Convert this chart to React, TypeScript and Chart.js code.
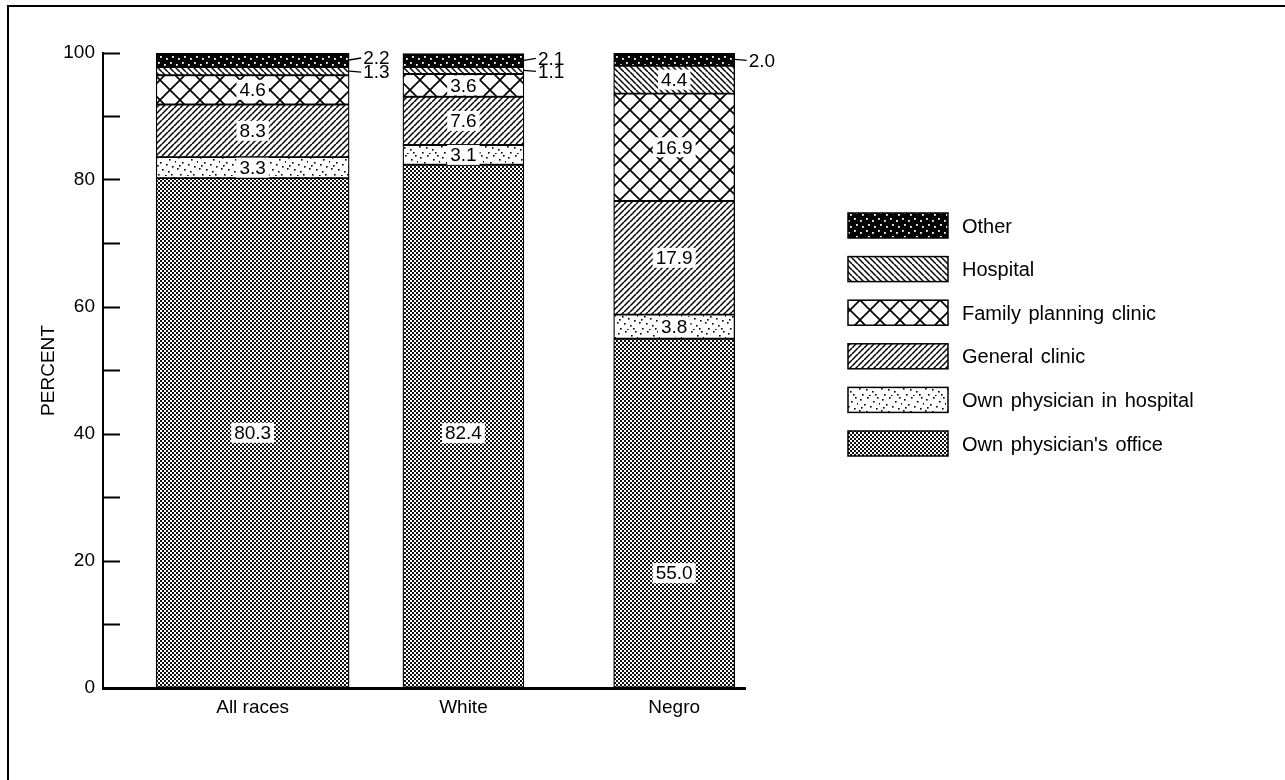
import React, { useEffect, useRef } from 'react';
import { Chart, registerables } from 'chart.js';

Chart.register(...registerables);

// ---- data ----
const categories = ['All races', 'White', 'Negro'];
const sources = [
  "Own physician's office",
  'Own physician in hospital',
  'General clinic',
  'Family planning clinic',
  'Hospital',
  'Other',
];
const allRaces = [80.3, 3.3, 8.3, 4.6, 1.3, 2.2];
const white = [82.4, 3.1, 7.6, 3.6, 1.1, 2.1];
const negro = [55.0, 3.8, 17.9, 16.9, 4.4, 2.0];
const yTickStep = 10;
const yLabelStep = 20;
const yAxisTitle = 'PERCENT';

// ---- styles ----
const FONT = "'Liberation Sans', Arial, Helvetica, sans-serif";
// vertical nudges (px) for a few in-bar labels, keyed "category index|source index"
const labelNudge: Record<string, number> = { '1|0': 7, '2|0': 60 };

function makePattern(w: number, h: number, draw: (c: CanvasRenderingContext2D) => void) {
  const c = document.createElement('canvas');
  c.width = w;
  c.height = h;
  const ctx = c.getContext('2d') as CanvasRenderingContext2D;
  draw(ctx);
  return ctx.createPattern(c, 'repeat') as CanvasPattern;
}

function buildPatterns() {
  const office = makePattern(4, 4, (c) => {
    c.fillStyle = '#fff';
    c.fillRect(0, 0, 4, 4);
    c.fillStyle = '#111';
    c.fillRect(0, 0, 2, 2);
    c.fillRect(2, 2, 2, 2);
  });
  const stippleDots = [
    [2, 3], [9, 1], [15, 5], [6, 8], [12, 10], [18, 12], [1, 14], [8, 15], [14, 17], [4, 20],
    [11, 21], [19, 1], [17, 20], [21, 7], [3, 11],
  ];
  const ownHospital = makePattern(22, 22, (c) => {
    c.fillStyle = '#fff';
    c.fillRect(0, 0, 22, 22);
    c.fillStyle = '#000';
    stippleDots.forEach(([x, y]) => c.fillRect(x, y, 1.6, 1.6));
  });
  const general = makePattern(6, 6, (c) => {
    c.fillStyle = '#fff';
    c.fillRect(0, 0, 6, 6);
    c.strokeStyle = '#000';
    c.lineWidth = 1.5;
    [-6, 0, 6].forEach((o) => {
      c.beginPath();
      c.moveTo(o, 6);
      c.lineTo(o + 6, 0);
      c.stroke();
    });
  });
  const family = makePattern(20, 20, (c) => {
    c.fillStyle = '#fff';
    c.fillRect(0, 0, 20, 20);
    c.strokeStyle = '#000';
    c.lineWidth = 1.7;
    [-20, 0, 20].forEach((o) => {
      c.beginPath();
      c.moveTo(o, 20);
      c.lineTo(o + 20, 0);
      c.stroke();
      c.beginPath();
      c.moveTo(o, 0);
      c.lineTo(o + 20, 20);
      c.stroke();
    });
  });
  const hospital = makePattern(6, 6, (c) => {
    c.fillStyle = '#fff';
    c.fillRect(0, 0, 6, 6);
    c.strokeStyle = '#000';
    c.lineWidth = 1.5;
    [-6, 0, 6].forEach((o) => {
      c.beginPath();
      c.moveTo(o, 0);
      c.lineTo(o + 6, 6);
      c.stroke();
    });
  });
  const otherDots = [[2, 2], [8, 4], [4, 8], [10, 10]];
  const other = makePattern(12, 12, (c) => {
    c.fillStyle = '#000';
    c.fillRect(0, 0, 12, 12);
    c.fillStyle = '#fff';
    otherDots.forEach(([x, y]) => c.fillRect(x, y, 1.8, 1.8));
  });
  return [office, ownHospital, general, family, hospital, other];
}

const segmentLabels = {
  id: 'segmentLabels',
  afterDatasetsDraw(chart: any) {
    const ctx: CanvasRenderingContext2D = chart.ctx;
    const bars: Record<number, { el: any; value: number; src: number }[]> = {};
    chart.data.datasets.forEach((ds: any, di: number) => {
      const meta = chart.getDatasetMeta(di);
      meta.data.forEach((el: any, i: number) => {
        const raw = ds.data[i];
        (bars[raw.x] = bars[raw.x] || []).push({ el, value: raw.y, src: ds.sourceIndex });
      });
    });
    ctx.save();
    ctx.font = `19px ${FONT}`;
    ctx.textBaseline = 'middle';
    Object.keys(bars).forEach((k) => {
      const items = bars[Number(k)];
      const callouts = items.filter((it) => it.value < 3);
      items.forEach((it) => {
        const { el, value } = it;
        const text = value.toFixed(1);
        const yc = (el.y + el.base) / 2;
        if (value >= 3) {
          const w = ctx.measureText(text).width;
          const y = yc + (labelNudge[`${k}|${it.src}`] || 0);
          ctx.fillStyle = '#fff';
          ctx.fillRect(el.x - w / 2 - 3, y - 10, w + 6, 20);
          ctx.fillStyle = '#000';
          ctx.textAlign = 'center';
          ctx.fillText(text, el.x, y + 1);
        } else {
          const idx = callouts.indexOf(it);
          const dy = callouts.length > 1 && idx === callouts.length - 1 ? -2 : 1;
          const xr = el.x + el.width / 2;
          const lx = xr + 14;
          const ly = yc + dy;
          ctx.strokeStyle = '#000';
          ctx.lineWidth = 1.3;
          ctx.beginPath();
          ctx.moveTo(xr, yc);
          ctx.lineTo(lx - 2, ly);
          ctx.stroke();
          ctx.fillStyle = '#000';
          ctx.textAlign = 'left';
          ctx.fillText(text, lx, ly + 1);
        }
      });
    });
    ctx.restore();
  },
};

const patternLegend = {
  id: 'patternLegend',
  afterDraw(chart: any) {
    const { ctx, chartArea } = chart;
    const x0 = chartArea.right + 103;
    const top = chartArea.top + 160;
    ctx.save();
    ctx.font = `20px ${FONT}`;
    (ctx as any).wordSpacing = '2px';
    ctx.textBaseline = 'middle';
    ctx.textAlign = 'left';
    const entries = sources.map((s, k) => ({ label: s, fill: chart.data.datasets[k].backgroundColor })).reverse();
    entries.forEach((e, j) => {
      const y = top + j * 43.6;
      ctx.fillStyle = e.fill;
      ctx.fillRect(x0, y, 100, 25);
      ctx.strokeStyle = '#000';
      ctx.lineWidth = 1.5;
      ctx.strokeRect(x0, y, 100, 25);
      ctx.fillStyle = '#000';
      ctx.fillText(e.label, x0 + 114, y + 14);
    });
    ctx.restore();
  },
};

export default function App() {
  const ref = useRef<HTMLCanvasElement>(null);
  useEffect(() => {
    if (!ref.current) return;
    const patterns = buildPatterns();
    const common = {
      borderColor: '#000',
      borderWidth: 1.3,
      borderSkipped: false,
      stack: 's',
    };
    const groupA = sources.map((s, k) => ({
      ...common,
      label: s,
      sourceIndex: k,
      data: [{ x: 0, y: allRaces[k] }],
      backgroundColor: patterns[k],
      barThickness: 193,
    }));
    const groupB = sources.map((s, k) => ({
      ...common,
      label: s,
      sourceIndex: k,
      data: [
        { x: 1, y: white[k] },
        { x: 2, y: negro[k] },
      ],
      backgroundColor: patterns[k],
      barThickness: 121,
    }));
    const chart = new Chart(ref.current, {
      type: 'bar',
      data: { datasets: [...groupA, ...groupB] as any },
      plugins: [segmentLabels, patternLegend],
      options: {
        animation: false,
        responsive: true,
        maintainAspectRatio: false,
        layout: { padding: { top: 53, right: 540, bottom: 0, left: 0 } },
        plugins: { legend: { display: false }, tooltip: { enabled: false } },
        scales: {
          x: {
            type: 'linear',
            offset: false,
            min: -0.71,
            max: 2.336,
            afterFit: (s: any) => {
              s.height = 92;
            },
            afterBuildTicks: (s: any) => {
              s.ticks = categories.map((_, i) => ({ value: i }));
            },
            ticks: {
              color: '#000',
              font: { family: FONT, size: 19 },
              padding: 8,
              maxRotation: 0,
              callback: (v: any) => categories[v] ?? '',
            },
            grid: { display: true, offset: false, drawOnChartArea: false, drawTicks: false },
            border: { display: true, color: '#000', width: 3 },
          },
          y: {
            stacked: true,
            min: 0,
            max: 100,
            afterFit: (s: any) => {
              s.width = 103;
            },
            ticks: {
              stepSize: yTickStep,
              color: '#000',
              font: { family: FONT, size: 19 },
              padding: 25,
              callback: (v: any) => (Number(v) % yLabelStep === 0 ? String(v) : ''),
            },
            grid: {
              drawOnChartArea: false,
              drawTicks: true,
              tickLength: -17,
              tickWidth: 2,
              tickColor: '#000',
            },
            border: { display: true, color: '#000', width: 2 },
            title: {
              display: true,
              text: yAxisTitle,
              color: '#000',
              font: { family: FONT, size: 19 },
              padding: { top: 37, bottom: 0 },
            },
          },
        },
      },
    });
    return () => chart.destroy();
  }, []);
  return (
    <div style={{ position: 'fixed', left: 0, top: 0, width: 1285, height: 780, background: '#fff' }}>
      <div
        style={{
          position: 'absolute',
          left: 7,
          top: 5,
          right: 0,
          bottom: 0,
          borderTop: '2px solid #000',
          borderLeft: '2px solid #000',
        }}
      />
      <div style={{ position: 'absolute', left: 0, top: 0, width: 1285, height: 780 }}>
        <canvas ref={ref} />
      </div>
    </div>
  );
}
